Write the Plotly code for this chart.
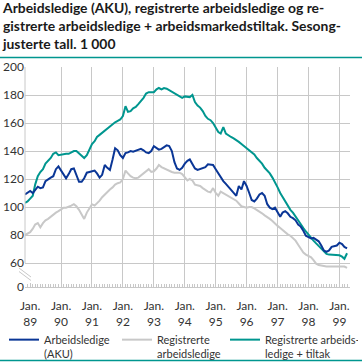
import pandas as pd
import plotly.graph_objects as go

# Monthly values, Nov 1988 - Apr 1999 (1 000 persons, seasonally adjusted)
aku = [109, 110, 111.5, 110, 112, 114.5, 113.5, 114, 118.5, 120, 121, 122, 127, 129,
       126, 122.5, 120.5, 123.5, 127, 127.5, 122, 118, 118, 120.5, 124.5, 125,
       125.5, 126, 124, 121, 123, 130, 128, 126.5, 134, 142, 140.5, 137,
       135, 138.5, 139, 140, 139.5, 140, 141, 141.5, 140.5, 139, 138.5, 140,
       143.5, 142.5, 141, 141.5, 142.5, 144, 143.5, 140, 132, 127.5, 126.5, 128,
       131, 133, 134, 131, 127.5, 126.5, 127, 127.5, 128.5, 130.5, 130.5, 130,
       127, 124, 120.5, 118.5, 116.5, 114.5, 112.5, 110, 108, 115, 112.5, 118.5,
       115, 110, 105, 104, 106, 109, 110, 108, 102, 99.5, 98.5, 99.5,
       96.5, 93, 96, 97, 95.5, 93, 92, 90.5, 87.5, 86, 83, 79.5,
       78.5, 77.5, 78, 77, 75.5, 72.5, 69, 68, 69, 71.5, 72, 72.5,
       74.5, 73.5, 71.5, 70.5]

registrerte = [80, 81, 82, 84.5, 87.5, 88.5, 85.5, 88.5, 90.5, 91.5, 93, 95, 96, 97,
               98, 99.5, 99.5, 100, 101, 102, 100.5, 98, 94.5, 91.5, 96, 99.5,
               102, 101, 102.5, 104.5, 107, 109, 110.5, 112.5, 114, 116, 117, 117.5,
               120, 126, 124, 122, 121, 120.5, 121, 122.5, 124.5, 126, 127, 125,
               125.5, 127.5, 130, 128.5, 127.5, 127, 126, 125, 124.5, 124.5, 124.5, 123.5,
               121, 119, 120, 119, 116, 115.5, 115, 113.5, 112, 111, 110.5, 113.5,
               110, 108, 111, 110, 108.5, 108, 107, 106, 104.5, 102.5, 100.5, 100,
               99.5, 100, 100, 99, 98, 97, 95.5, 94, 93, 91.5, 90, 88,
               86.5, 85, 83.5, 82, 80.5, 79.5, 78, 76, 73, 70, 67.5, 66,
               65, 64, 62, 59.5, 58.5, 58, 58, 57.5, 57.5, 57.5, 58, 58,
               58, 58, 57.5, 56.5]

tiltak = [103, 104, 106, 108, 116, 122, 125, 127, 131, 133, 135, 138, 139, 137,
          137.5, 138, 138, 138, 139, 140, 140, 138.5, 137, 135, 137, 141,
          145, 147, 150, 151.5, 153, 154.5, 156, 158, 159.5, 160.5, 161.5, 162.5,
          165, 172, 168, 168.5, 170.5, 171.5, 173.5, 175.5, 178, 181, 182, 182,
          182, 184, 185, 184, 185, 184.5, 183.5, 182.5, 181.5, 180.5, 179.5, 178,
          179, 178.5, 178.5, 180, 175, 172.5, 171, 168.5, 165, 163, 162, 160,
          157, 153.5, 152.5, 157, 152.5, 151, 150, 149, 148, 146.5, 145, 143.5,
          142, 141, 139.5, 137.5, 135, 133, 131, 128, 126, 124, 121, 118,
          114, 110, 107, 104, 101, 98, 96, 93, 90, 88, 85, 82.5,
          80, 78, 76, 74, 72, 70, 68, 66.5, 66, 66, 66, 65.5,
          65.5, 64.5, 63, 67]

months = pd.date_range("1988-11-01", periods=len(aku), freq="MS")

years = list(range(1989, 2000))
year_ticks = [f"{y}-01-01" for y in years]
year_labels = [f"Jan.<br>{str(y)[2:]}" for y in years]

y_ticks = [60, 80, 100, 120, 140, 160, 180, 200]
ZERO_POS = 60 - 24 / 1.4   # position where the broken axis shows 0

BLUE = "#0a3696"
GREY = "#c8c8c8"
TEAL = "#00968f"
GRID = "#c8c8c8"
TXT = "#333333"
FONT = "Lato"
W = H = 362


def px_x(p):
    return p / W


def px_y(p):
    return (H - p) / H


fig = go.Figure()
fig.add_trace(go.Scatter(x=months, y=registrerte, mode="lines", name="Registrerte<br>arbeidsledige",
                         line=dict(color=GREY, width=2), legendrank=2, legendwidth=63))
fig.add_trace(go.Scatter(x=months, y=tiltak, mode="lines", name="Registrerte arbeids-<br>ledige + tiltak",
                         line=dict(color=TEAL, width=2), legendrank=3, legendwidth=88))
fig.add_trace(go.Scatter(x=months, y=aku, mode="lines", name="Arbeidsledige<br>(AKU)",
                         line=dict(color=BLUE, width=2), legendrank=1, legendwidth=68))
# helper traces: gridline axis, and a full-page pixel frame for decorations
fig.add_trace(go.Scatter(x=[months[0]], y=[None], xaxis="x2", showlegend=False, hoverinfo="skip"))
fig.add_trace(go.Scatter(x=[None], y=[None], xaxis="x3", yaxis="y3", showlegend=False, hoverinfo="skip"))

xrange = ["1988-11-01", "1999-05-06"]
xdom = [px_x(25), px_x(350)]
ydom = [px_y(287), px_y(67)]

fig.update_layout(
    width=W, height=H,
    margin=dict(l=0, r=0, t=0, b=0, autoexpand=False),
    paper_bgcolor="white", plot_bgcolor="rgba(0,0,0,0)",
    font=dict(family=FONT, size=12, color=TXT),
    title=dict(
        text="Arbeidsledige (AKU), registrerte arbeidsledige og re-<br>gistrerte arbeidsledige + arbeidsmarkedstiltak. Sesong-<br>justerte tall. 1 000",
        x=3 / W, xref="container", xanchor="left",
        y=1 - 13 / H, yref="container", yanchor="top",
        font=dict(family=FONT, size=13.9, color="#1a1a1a", weight="bold"),
    ),
    xaxis=dict(
        type="date", range=xrange, domain=xdom, anchor="y",
        tickvals=year_ticks, ticktext=year_labels,
        showgrid=False, zeroline=False,
        showline=True, linecolor=GRID, linewidth=1,
        ticks="inside", ticklen=4, tickcolor=GRID,
        minor=dict(ticks="inside", ticklen=3, tickcolor=GRID, dtick="M1",
                   tick0="1988-11-01", showgrid=False),
        tickfont=dict(size=12, color=TXT),
        ticklabelstandoff=8,
    ),
    xaxis2=dict(
        type="date", range=xrange, overlaying="x", matches="x", anchor="y",
        tickvals=year_ticks[1:], showticklabels=False, ticks="",
        showgrid=True, gridcolor=GRID, gridwidth=1, showline=False, zeroline=False,
    ),
    yaxis=dict(
        range=[ZERO_POS, 200], domain=ydom, anchor="x",
        tickvals=[ZERO_POS] + y_ticks, ticktext=["0"] + [str(v) for v in y_ticks],
        showgrid=True, gridcolor=GRID, gridwidth=1,
        zeroline=False, showline=False, ticks="",
        tickfont=dict(size=12, color=TXT),
    ),
    xaxis3=dict(domain=[0, 1], range=[0, W], anchor="y3", visible=False, fixedrange=True),
    yaxis3=dict(domain=[0, 1], range=[H, 0], anchor="x3", visible=False, fixedrange=True),
    legend=dict(
        orientation="h", x=px_x(4), xanchor="left",
        y=px_y(326), yanchor="top", valign="top",
        font=dict(size=11, color=TXT), bgcolor="rgba(0,0,0,0)",
        itemwidth=30, traceorder="normal",
    ),
    showlegend=True,
)

# left axis line (60-200 only, the axis is broken below 60)
fig.add_shape(type="line", xref="paper", yref="y", x0=px_x(25), x1=px_x(25), y0=60, y1=200,
              line=dict(color=GRID, width=1))
# axis break marks (page pixel frame)
for y0 in (268, 271.5):
    fig.add_shape(type="line", xref="x3", yref="y3",
                  x0=19, x1=31, y0=y0, y1=y0 + 9,
                  line=dict(color=GRID, width=1))
# teal rules under the title and under the legend
for yr in (57.5, 360.5):
    fig.add_shape(type="line", xref="x3", yref="y3",
                  x0=0, x1=W, y0=yr, y1=yr,
                  line=dict(color=TEAL, width=1.5))

fig.write_html("out.html", config={"displayModeBar": False},
               post_script="document.body.style.margin='0px';")
